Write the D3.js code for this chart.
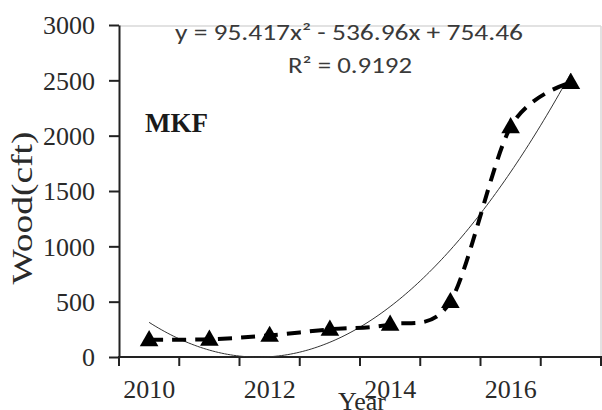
<!DOCTYPE html>
<html><head><meta charset="utf-8">
<script src="https://cdn.jsdelivr.net/npm/d3@7"></script>
<style>
body{margin:0;background:#fff}svg{display:block}
.serif{font-family:"Liberation Serif","DejaVu Serif","Times New Roman",serif}
.sans{font-family:Carlito,"Open Sans","Noto Sans",sans-serif}
</style>
</head><body>
<svg id="c" width="602" height="410"></svg>
<script>
const years = [2010, 2011, 2012, 2013, 2014, 2015, 2016, 2017];
const wood = [155, 160, 195, 250, 295, 500, 2080, 2480];
const yTicks = [0, 500, 1000, 1500, 2000, 2500, 3000];
const xTickLabels = [2010, 2012, 2014, 2016];
const trendCoef = [95.417, -536.96, 754.46]; // a x^2 + b x + c, x = category index
const eqText = "y = 95.417x² - 536.96x + 754.46";
const r2Text = "R² = 0.9192";

const svg = d3.select("#c");
const L = 119, R = 601, T = 25, B = 357;
const x = d3.scaleBand().domain(years).range([L, R]).padding(0);
const y = d3.scaleLinear().domain([0, 3000]).range([B, T]);
const cx = d => x(d) + x.bandwidth() / 2;

// plot border (light)
svg.append("line").attr("x1", L).attr("x2", R).attr("y1", T + 1).attr("y2", T + 1).attr("stroke", "#d9d9d9").attr("stroke-width", 1.5);
svg.append("line").attr("x1", R).attr("x2", R).attr("y1", T + 1).attr("y2", B).attr("stroke", "#d9d9d9").attr("stroke-width", 1.5);

// Y axis
const yAxis = svg.append("g").attr("transform", `translate(${L},0)`)
  .call(d3.axisLeft(y).tickValues(yTicks).tickFormat(d3.format("d")).tickSize(10).tickPadding(14).tickSizeOuter(0));
yAxis.attr("font-family", null).attr("font-size", null);
yAxis.select(".domain").attr("stroke", "#222").attr("stroke-width", 2);
yAxis.selectAll(".tick line").attr("stroke", "#222").attr("stroke-width", 2);
yAxis.selectAll("text").attr("class", "serif").style("font-size", "26px").attr("fill", "#2a2a2a").attr("dy", "0.34em");

// X axis line & boundary ticks
svg.append("line").attr("x1", L - 1).attr("x2", 602).attr("y1", B).attr("y2", B).attr("stroke", "#222").attr("stroke-width", 2);
const bounds = years.map(d => x(d)).concat([R]);
svg.append("g").selectAll("line").data(bounds).join("line")
  .attr("x1", d => d).attr("x2", d => d).attr("y1", B).attr("y2", B + 9)
  .attr("stroke", "#222").attr("stroke-width", 2);
svg.append("g").selectAll("text").data(xTickLabels).join("text")
  .attr("class", "serif").style("font-size", "26px")
  .attr("x", d => cx(d)).attr("y", 398).attr("text-anchor", "middle")
  .attr("fill", "#2a2a2a").text(d => d);

// axis titles
svg.append("text").attr("class", "serif").style("font-size", "29px")
  .attr("transform", "translate(32,208) rotate(-90)").attr("text-anchor", "middle")
  .attr("fill", "#2a2a2a")
  .attr("textLength", 153).attr("lengthAdjust", "spacingAndGlyphs").text("Wood(cft)");
svg.append("text").attr("class", "serif").style("font-size", "26px")
  .attr("x", 362).attr("y", 410).attr("text-anchor", "middle")
  .attr("fill", "#2a2a2a").text("Year");

// MKF label
svg.append("text").attr("class", "serif").style("font-size", "27px").style("font-weight", "bold")
  .attr("x", 145).attr("y", 132).attr("fill", "#1a1a1a").text("MKF");

// trendline
const trendPts = d3.range(1, 8.001, 0.05).map(t => {
  const v = trendCoef[0] * t * t + trendCoef[1] * t + trendCoef[2];
  const px = cx(years[0]) + (t - 1) * x.bandwidth();
  return [px, y(v)];
});
svg.append("path").attr("d", d3.line()(trendPts))
  .attr("fill", "none").attr("stroke", "#333").attr("stroke-width", 1);

// dashed smoothed series
svg.append("path").datum(years.map((d, i) => [cx(d), y(wood[i])]))
  .attr("d", d3.line().curve(d3.curveCardinal.tension(0.1)))
  .attr("fill", "none").attr("stroke", "#000").attr("stroke-width", 4)
  .attr("stroke-dasharray", "14,9").attr("stroke-linecap", "butt");

// markers
svg.append("g").selectAll("path").data(years).join("path")
  .attr("transform", (d, i) => `translate(${cx(d)},${y(wood[i]) + 1})`)
  .attr("d", d3.symbol().type(d3.symbolTriangle).size(150)).attr("fill", "#000");

// equation
svg.append("text").attr("class", "sans").style("font-size", "22px")
  .attr("x", 175).attr("y", 40)
  .attr("fill", "#3a3a3a").attr("textLength", 348).attr("lengthAdjust", "spacingAndGlyphs").text(eqText);
svg.append("text").attr("class", "sans").style("font-size", "22px")
  .attr("x", 288).attr("y", 73)
  .attr("fill", "#3a3a3a").attr("textLength", 124).attr("lengthAdjust", "spacingAndGlyphs").text(r2Text);
</script>
</body></html>
